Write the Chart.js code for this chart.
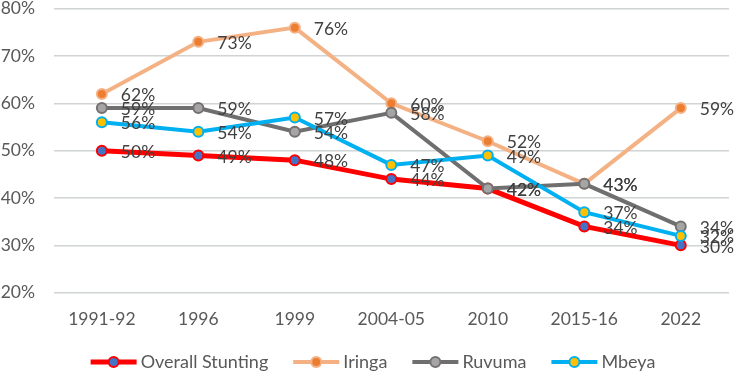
<!DOCTYPE html>
<html>
<head>
<meta charset="utf-8">
<script src="https://cdn.jsdelivr.net/npm/chart.js@4/dist/chart.umd.min.js"></script>
<style>
    html, body { margin: 0; padding: 0; background: #fff; }
    #wrap { width: 736px; height: 373px; }
</style>
</head>
<body>
<div id="wrap"><canvas id="line-chart-stunting"></canvas></div>
<script>
let years = ["1991-92", "1996", "1999", "2004-05", "2010", "2015-16", "2022"];
let overallStunting = [50, 49, 48, 44, 42, 34, 30];
let iringa = [62, 73, 76, 60, 52, 43, 59];
let ruvuma = [59, 59, 54, 58, 42, 43, 34];
let mbeya = [56, 54, 57, 47, 49, 37, 32];
let yTicks = [20, 30, 40, 50, 60, 70, 80];

let fontName = "Lato";

// value labels right of every point
let valueLabels = {
    id: "valueLabels",
    afterDatasetsDraw: function (chart) {
        let ctx = chart.ctx;
        ctx.save();
        ctx.font = "17.5px " + fontName;
        ctx.fillStyle = "#404040";
        ctx.textAlign = "left";
        ctx.textBaseline = "middle";
        chart.data.datasets.forEach(function (ds, i) {
            chart.getDatasetMeta(i).data.forEach(function (pt, j) {
                ctx.fillText(ds.data[j] + "%", pt.x + 19, pt.y + 1.5);
            });
        });
        ctx.restore();
    }
};

// legend under the axis: line with marker, then name
let lineLegend = {
    id: "lineLegend",
    afterDraw: function (chart) {
        let ctx = chart.ctx;
        let lineLen = 46, gap = 4, itemGap = 25, y = 362, centre = 373;
        ctx.save();
        ctx.font = "18px " + fontName;
        ctx.textBaseline = "middle";
        let items = chart.data.datasets;
        let widths = items.map(function (ds) {
            return lineLen + gap + ctx.measureText(ds.label).width;
        });
        let total = widths.reduce(function (a, b) { return a + b; }, 0) + itemGap * (items.length - 1);
        let x = centre - total / 2;
        items.forEach(function (ds, i) {
            ctx.strokeStyle = ds.borderColor;
            ctx.lineWidth = ds.borderWidth;
            ctx.beginPath();
            ctx.moveTo(x, y);
            ctx.lineTo(x + lineLen, y);
            ctx.stroke();
            ctx.beginPath();
            ctx.arc(x + lineLen / 2, y, ds.pointRadius, 0, Math.PI * 2);
            ctx.fillStyle = ds.pointBackgroundColor;
            ctx.fill();
            ctx.lineWidth = ds.pointBorderWidth;
            ctx.strokeStyle = ds.pointBorderColor;
            ctx.stroke();
            ctx.fillStyle = "#595959";
            ctx.fillText(ds.label, x + lineLen + gap, y);
            x += widths[i] + itemGap;
        });
        ctx.restore();
    }
};

function makeSeries(label, data, lineColor, fill, edge, width, order) {
    return {
        label: label,
        data: data,
        borderColor: lineColor,
        borderWidth: width,
        pointRadius: 5,
        pointHoverRadius: 5,
        pointBackgroundColor: fill,
        pointBorderColor: edge,
        pointBorderWidth: 2,
        tension: 0,
        fill: false,
        order: order
    };
}

new Chart(document.getElementById("line-chart-stunting"), {
    type: "line",
    data: {
        labels: years,
        datasets: [
            makeSeries("Overall Stunting", overallStunting, "#ff0000", "#4472c4", "#ff0000", 5, 4),
            makeSeries("Iringa", iringa, "#f4b183", "#ed7d31", "#f4b183", 4, 3),
            makeSeries("Ruvuma", ruvuma, "#6f6f6f", "#a5a5a5", "#767171", 4, 2),
            makeSeries("Mbeya", mbeya, "#00b0f0", "#ffc000", "#00b0f0", 4, 1)
        ]
    },
    options: {
        responsive: true,
        maintainAspectRatio: false,
        animation: false,
        layout: { padding: { top: 8.7, right: 4.4, bottom: 0, left: 0 } },
        plugins: {
            legend: { display: false },
            tooltip: { enabled: false }
        },
        scales: {
            x: {
                offset: true,
                grid: { display: false },
                border: { display: false },
                ticks: {
                    color: "#595959",
                    font: { family: fontName, size: 17.5 },
                    padding: 8,
                    maxRotation: 0
                },
                afterFit: function (scale) { scale.height = 373 - 292.7; }
            },
            y: {
                min: 20,
                max: 80,
                grid: { color: "#d0d4d4", lineWidth: 1.5, drawTicks: false },
                border: { display: false },
                afterBuildTicks: function (scale) {
                    scale.ticks = yTicks.map(function (v) { return { value: v }; });
                },
                ticks: {
                    color: "#595959",
                    font: { family: fontName, size: 17.5 },
                    padding: 18.6,
                    callback: function (v) { return v + "%"; }
                },
                afterFit: function (scale) {
                    scale.width = 53.6;
                    scale.paddingTop = 0;
                    scale.paddingBottom = 0;
                }
            }
        }
    },
    plugins: [valueLabels, lineLegend]
});
</script>
</body>
</html>
